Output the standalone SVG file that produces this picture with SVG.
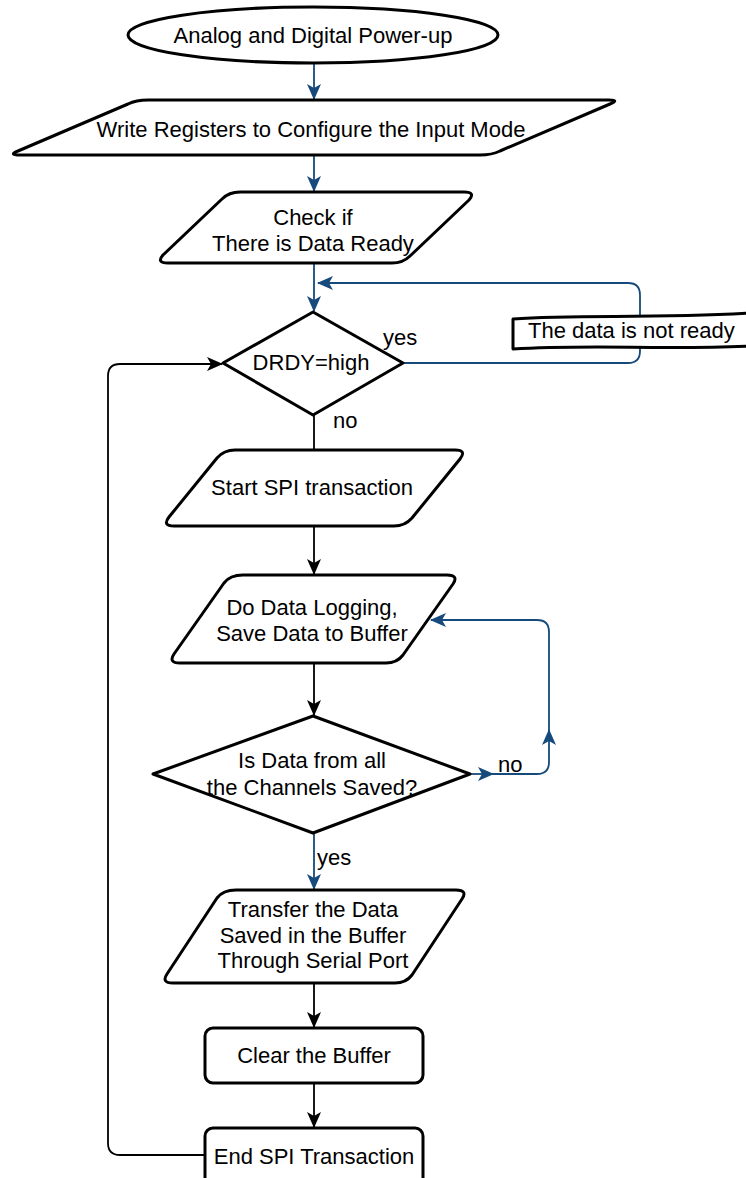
<svg xmlns="http://www.w3.org/2000/svg" width="746" height="1178" viewBox="0 0 746 1178">
<defs>
<style>
.shape{fill:#fff;stroke:#000;stroke-width:3;stroke-linejoin:round}
.t{font-family:"Liberation Sans",Arial,sans-serif;font-size:22px;fill:#000}
.c{text-anchor:middle}
.blue{fill:none;stroke:#174a7c;stroke-width:1.8}
.black{fill:none;stroke:#000;stroke-width:1.8}
</style>
<marker id="ab" markerUnits="userSpaceOnUse" markerWidth="18" markerHeight="16" refX="15" refY="8" orient="auto">
<path d="M0,1 L16,8 L0,15 L4,8 Z" fill="#174a7c"/>
</marker>
<marker id="ak" markerUnits="userSpaceOnUse" markerWidth="18" markerHeight="16" refX="15" refY="8" orient="auto">
<path d="M0,1 L16,8 L0,15 L4,8 Z" fill="#000"/>
</marker>
</defs>
<rect width="746" height="1178" fill="#fff"/>

<g id="connectors">
<path class="blue" d="M314,63 V99" marker-end="url(#ab)"/>
<path class="blue" d="M314,155 V191" marker-end="url(#ab)"/>
<path class="blue" d="M314,263 V311" marker-end="url(#ab)"/>
<path class="blue" d="M403,363 H628 Q640,363 640,351 V295 Q640,283 628,283 H318" marker-end="url(#ab)"/>
<path class="black" d="M314,415 V450"/>
<path class="black" d="M314,526 V574" marker-end="url(#ak)"/>
<path class="black" d="M314,663 V715" marker-end="url(#ak)"/>
<path class="blue" d="M470,774 H493" marker-end="url(#ab)"/>
<path class="blue" d="M492,774 H537 Q549,774 549,762 V730" marker-end="url(#ab)"/>
<path class="blue" d="M549,732 V632 Q549,620 537,620 H431" marker-end="url(#ab)"/>
<path class="blue" d="M314,833 V889" marker-end="url(#ab)"/>
<path class="black" d="M314,983 V1027" marker-end="url(#ak)"/>
<path class="black" d="M314,1083 V1127" marker-end="url(#ak)"/>
<path class="black" d="M205,1155 H120 Q108,1155 108,1143 V376 Q108,364 120,364 H222" marker-end="url(#ak)"/>
</g>

<g id="label-not-ready">
<path class="shape" d="M513,319 C580,314 650,319 750,313 L750,346 C660,350 590,344 513,349 Z"/>
<text class="t" x="528" y="338">The data is not ready</text>
</g>

<g id="n-start">
<ellipse class="shape" cx="313" cy="35" rx="185" ry="28"/>
<text class="t c" x="313" y="43">Analog and Digital Power-up</text>
</g>

<g id="n-write">
<path class="shape" d="M148,100 H609 Q620,100 610,104 L500,151 Q492,155 480,155 H20 Q8,155 18,151 L128,104 Q136,100 148,100 Z"/>
<text class="t c" x="311" y="137">Write Registers to Configure the Input Mode</text>
</g>

<g id="n-check">
<path class="shape" d="M240,192 H464 Q476,192 469,200 L410,256 Q403,263 392,263 H168 Q156,263 163,255 L222,199 Q229,192 240,192 Z"/>
<text class="t c" x="313" y="225">Check if</text>
<text class="t c" x="313" y="251">There is Data Ready</text>
</g>

<g id="n-drdy">
<path class="shape" d="M313,312 L403,363 L313,415 L223,363 Z"/>
<text class="t c" x="311" y="370">DRDY=high</text>
<text class="t" x="383" y="345">yes</text>
<text class="t" x="333" y="428">no</text>
</g>

<g id="n-startspi">
<path class="shape" d="M235,450 H455 Q467,450 460,459 L412,518 Q405,526 394,526 H174 Q162,526 169,517 L217,458 Q224,450 235,450 Z"/>
<text class="t c" x="312" y="495">Start SPI transaction</text>
</g>

<g id="n-log">
<path class="shape" d="M243,575 H447 Q459,575 453,584 L403,655 Q397,663 386,663 H180 Q168,663 174,654 L224,583 Q230,575 243,575 Z"/>
<text class="t c" x="312" y="615">Do Data Logging,</text>
<text class="t c" x="312" y="641">Save Data to Buffer</text>
</g>

<g id="n-allsaved">
<path class="shape" d="M313,716 L470,774 L313,833 L153,774 Z"/>
<text class="t c" x="312" y="768">Is Data from all</text>
<text class="t c" x="312" y="795">the Channels Saved?</text>
<text class="t" x="498" y="772">no</text>
<text class="t" x="317" y="865">yes</text>
</g>

<g id="n-transfer">
<path class="shape" d="M236,890 H456 Q468,890 462,899 L412,975 Q406,983 395,983 H173 Q161,983 167,974 L217,898 Q223,890 236,890 Z"/>
<text class="t c" x="313" y="917">Transfer the Data</text>
<text class="t c" x="313" y="943">Saved in the Buffer</text>
<text class="t c" x="313" y="968">Through Serial Port</text>
</g>

<g id="n-clear">
<rect class="shape" x="205" y="1028" width="218" height="55" rx="8"/>
<text class="t c" x="314" y="1063">Clear the Buffer</text>
</g>

<g id="n-end">
<rect class="shape" x="205" y="1128" width="218" height="60" rx="8"/>
<text class="t c" x="314" y="1164">End SPI Transaction</text>
</g>
</svg>
